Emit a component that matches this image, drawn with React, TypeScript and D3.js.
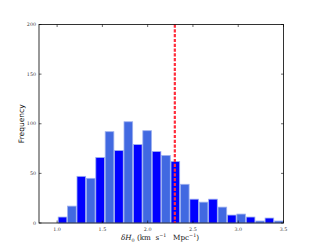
import React from "react";
import * as d3 from "d3";

// histogram of delta H0, 26 bins from 0.8 to 3.5
const binStart = 0.8;
const binEnd = 3.5;
const counts = [0, 0, 6, 17, 47, 45, 66, 92, 73, 102, 79, 93, 72, 68, 62, 39, 24, 21, 24, 16, 8, 9, 6, 2, 5, 2];
const barColors = ["#0000ff", "#4169e1"];
const markerValue = 2.3;
const xTicks = [1.0, 1.5, 2.0, 2.5, 3.0, 3.5];
const yTicks = [0, 50, 100, 150, 200];

const W = 315;
const H = 248;
const m = { left: 39, right: 31.5, top: 24.5, bottom: 25 };
const sp = "\u00a0";

export default function App() {
    const x = d3.scaleLinear().domain([0.8, 3.5]).range([m.left, W - m.right]);
    const y = d3.scaleLinear().domain([0, 200]).range([H - m.bottom, m.top]);
    const bw = (binEnd - binStart) / counts.length;
    const tick = 2.5;
    const y0 = y(0);

    return (
        <svg width={W} height={H} style={{ position: "absolute", left: 0, top: 0, background: "#fff" }}>
            {counts.map((c, i) => {
                const x0 = x(binStart + i * bw);
                const x1 = x(binStart + (i + 1) * bw);
                const pad = (x1 - x0) * 0.04;
                return (
                    <rect key={i} x={x0 + pad} y={y(c)} width={x1 - x0 - 2 * pad} height={y0 - y(c)}
                        fill={barColors[i % 2]} stroke="#9db0ef" strokeWidth={0.8} />
                );
            })}
            <line x1={x(markerValue)} x2={x(markerValue)} y1={y(200)} y2={y0}
                stroke="#ff2d3c" strokeWidth={2.2} strokeDasharray="3.2,1.6" />
            <rect x={m.left} y={m.top} width={W - m.left - m.right} height={y0 - m.top}
                fill="none" stroke="#000" strokeWidth={0.8} />
            {xTicks.map(t => (
                <g key={"x" + t}>
                    <line x1={x(t)} x2={x(t)} y1={y0} y2={y0 - tick} stroke="#000" strokeWidth={0.6} />
                    <line x1={x(t)} x2={x(t)} y1={m.top} y2={m.top + tick} stroke="#000" strokeWidth={0.6} />
                    <text x={x(t)} y={y0 + 7.5} textAnchor="middle" fontSize={4.8}
                        fontFamily="DejaVu Serif, serif" fill="#333">{t.toFixed(1)}</text>
                </g>
            ))}
            {yTicks.map(t => (
                <g key={"y" + t}>
                    <line x1={m.left} x2={m.left + tick} y1={y(t)} y2={y(t)} stroke="#000" strokeWidth={0.6} />
                    <line x1={W - m.right} x2={W - m.right - tick} y1={y(t)} y2={y(t)} stroke="#000" strokeWidth={0.6} />
                    <text x={m.left - 3} y={y(t) + 1.6} textAnchor="end" fontSize={4.8}
                        fontFamily="DejaVu Serif, serif" fill="#333">{t}</text>
                </g>
            ))}
            <text transform={`translate(24,${(m.top + y0) / 2}) rotate(-90)`} textAnchor="middle"
                fontSize={7.5} fontFamily="DejaVu Sans, sans-serif" fill="#111">Frequency</text>
            <text x={160} y={240} textAnchor="middle" fontSize={7.2}
                fontFamily="DejaVu Serif, serif" fill="#111">
                <tspan fontStyle="italic">δH</tspan>
                <tspan fontSize={4.8} dy={1.5}>0</tspan>
                <tspan dy={-1.5}>{sp + "(km" + sp + sp + "s"}</tspan>
                <tspan fontSize={4.8} dy={-3}>−1</tspan>
                <tspan dy={3}>{sp + sp + sp + "Mpc"}</tspan>
                <tspan fontSize={4.8} dy={-3}>−1</tspan>
                <tspan dy={3}>)</tspan>
            </text>
        </svg>
    );
}
